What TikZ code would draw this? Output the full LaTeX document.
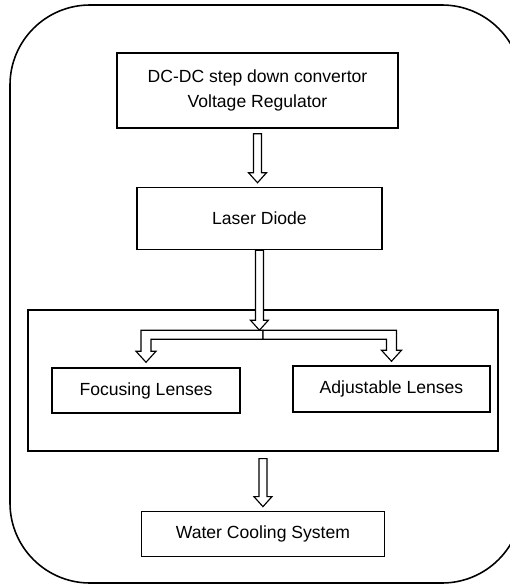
\documentclass[tikz,border=0pt]{standalone}
\usepackage{fontspec}
\setmainfont{Liberation Sans}
\usetikzlibrary{calc,positioning}

% hollow block arrow pointing down, from start point #1 to tip #2
\newcommand{\hollowarrow}[2]{%
  \draw[hollow] ($(#1)+(-4,0)$) -- ($(#1|-#2)+(-4,-10)$) -- ($(#1|-#2)+(-9,-10)$) -- (#1|-#2)
    -- ($(#1|-#2)+(9,-10)$) -- ($(#1|-#2)+(4,-10)$) -- ($(#1)+(4,0)$) -- cycle;}
% elbow arrow from split point #1 to tip #2, #3 = -1 (left) or 1 (right)
\newcommand{\elbowarrow}[3]{%
  \draw[hollow] (#1) -- ($(#2|-#1)+({5*#3},0)$) -- ($(#2)+({5*#3},-11)$) -- ($(#2)+({10*#3},-11)$) -- (#2)
    -- ($(#2)+({-10*#3},-11)$) -- ($(#2)+({-5*#3},-11)$) -- ($(#2|-#1)+({-5*#3},9)$) -- ($(#1)+(0,9)$) -- cycle;}

\begin{document}
\begin{tikzpicture}[
  x=0.02cm, y=-0.02cm,
  block/.style={draw, rectangle, line width=0.85pt, align=center, inner sep=0pt, font=\fontsize{10}{14}\selectfont},
  hollow/.style={draw, fill=white, line width=0.65pt, line join=miter}
]
\useasboundingbox (0,0) rectangle (510,585);
\draw[line width=0.9pt, rounded corners=1.6cm] (10,5) rectangle (522,583);

\node[block, minimum width=5.62cm, minimum height=1.5cm] (conv) at (257.5,90.5) {DC-DC step down convertor\\Voltage Regulator};
\node[block, minimum width=4.9cm, minimum height=1.24cm, below=1.16cm of conv, xshift=1.1pt] (laser) {Laser Diode};
\node[block, minimum width=9.4cm, minimum height=2.82cm, below=1.18cm of laser, xshift=2pt] (group) {};
\node[block, minimum width=3.76cm, minimum height=0.9cm] (focus) at (146,390.5) {Focusing Lenses};
\node[block, minimum width=3.94cm, minimum height=0.92cm] (adjust) at (391.5,389) {Adjustable Lenses};
\node[block, minimum width=4.86cm, minimum height=0.9cm, below=1.18cm of group] (water) {Water Cooling System};

\coordinate (c1) at ($(conv.south)+(0,5)$);
\coordinate (l1) at ($(laser.north)+(0,-4)$);
\coordinate (split) at ($(group.north)+(0,21)$);
\coordinate (f1) at ($(focus.north)+(0,-5)$);
\coordinate (a1) at ($(adjust.north)+(0,-4)$);
\coordinate (g1) at ($(group.south)+(0,7)$);
\coordinate (w1) at ($(water.north)+(0,-4)$);

\hollowarrow{c1}{l1}
\hollowarrow{laser.south}{split}
\elbowarrow{split}{f1}{-1}
\elbowarrow{split}{a1}{1}
\hollowarrow{g1}{w1}
\end{tikzpicture}
\end{document}
